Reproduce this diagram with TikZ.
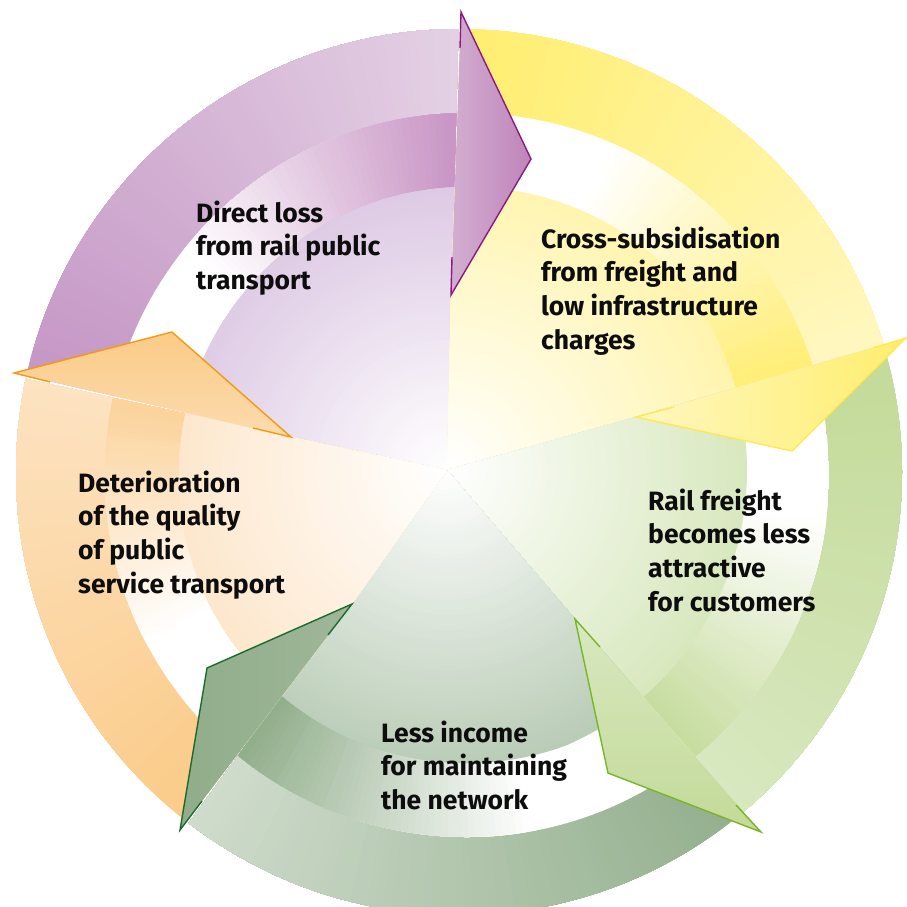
\documentclass[tikz,border=0pt]{standalone}
\usepackage{fontspec}
\setmainfont{Fira Sans}
\usetikzlibrary{calc}
% band start / band end / shaft / pie colours
\definecolor{purA}{HTML}{C596C5}\definecolor{purB}{HTML}{E4D1E4}\definecolor{purS}{HTML}{C894C4}\definecolor{purP}{HTML}{DBC6E2}
\definecolor{yelA}{HTML}{FFEE6E}\definecolor{yelB}{HTML}{FFF7C0}\definecolor{yelS}{HTML}{FFEE75}\definecolor{yelP}{HTML}{FFF4AE}
\definecolor{lgrA}{HTML}{C3DA98}\definecolor{lgrB}{HTML}{D8E8C0}\definecolor{lgrS}{HTML}{C6DC9D}\definecolor{lgrP}{HTML}{D8E8BE}
\definecolor{dgrA}{HTML}{93AF8D}\definecolor{dgrB}{HTML}{D0DCCD}\definecolor{dgrS}{HTML}{90AD8A}\definecolor{dgrP}{HTML}{B9CCB6}
\definecolor{orgA}{HTML}{FBCB88}\definecolor{orgB}{HTML}{FDE3C2}\definecolor{orgS}{HTML}{FBD299}\definecolor{orgP}{HTML}{FDE5C8}
% arrow-head fills and strokes
\definecolor{purH}{HTML}{D3AED1}\definecolor{purK}{HTML}{BF84B9}
\definecolor{purL}{HTML}{8A1A80}\definecolor{yelL}{HTML}{FFE950}\definecolor{lgrL}{HTML}{7AB527}
\definecolor{dgrL}{HTML}{1A6B2D}\definecolor{orgL}{HTML}{F39A10}
\definecolor{txt}{HTML}{0D0D0D}
% #1 start angle, #2 end angle, #3 start boundary name, #4 end boundary name,
% #5 band start colour, #6 band end colour, #7 shaft colour, #8 pie colour
\newcommand\drawsector[8]{%
 \begin{scope}
  \clip (A) -- (#3V2) -- ($(#3V2)!1.9!(#3V1)$) -- ($(#4V2)!1.9!(#4V1)$) -- (#4V2) -- cycle;
  \begin{scope}
   \clip (O) circle[radius=443];
   \foreach \i in {0,...,71}{%
     \pgfmathsetmacro\sa{#1+(#2-#1)*\i/72}%
     \pgfmathtruncatemacro\sp{100*(\i+0.5)/72}%
     \fill[#6!\sp!#5] (A) -- +(\sa:700) -- +(#2:700) -- cycle;
   }
  \end{scope}
  \begin{scope}
   \clip (I) circle[radius=362];
   \fill[white] (I) circle[radius=362];
   \foreach \i in {25,...,71}{%
     \pgfmathsetmacro\sa{#1+(#2-#1)*\i/72}%
     \pgfmathtruncatemacro\sp{100*(((\i+0.5)/72)-0.35)/0.65}%
     \fill[#7!\sp!white] (A) -- +(\sa:700) -- +(#2:700) -- cycle;
   }
  \end{scope}
  \begin{scope}
   \clip (I) circle[radius=288];
   \foreach \i in {0,...,59}{%
     \pgfmathsetmacro\sr{300-5*\i}%
     \pgfmathtruncatemacro\sp{(300-5*\i)/3}%
     \fill[#8!\sp!white] (A) circle[radius=\sr];
   }
  \end{scope}
 \end{scope}}
\tikzset{
  lbl/.style={anchor=base west, align=left, inner sep=0pt, text=txt,
    font=\fontsize{26.5}{33.7}\selectfont\bfseries},
  headline/.style={line width=1.4pt, line join=miter, line cap=butt}
}
\begin{document}
\begin{tikzpicture}[x=1pt,y=1pt]
\useasboundingbox (0,0) rectangle (907,-906);
\clip (0,0) rectangle (907,-906);
\coordinate (A) at (447,-470);
\coordinate (O) at (459,-472);
\coordinate (I) at (467,-475);
% arrow heads: V1 outer back corner, T tip, V2 inner back corner, B1/B2 barb ends
\coordinate (pV1) at (461,-12);  \coordinate (pT) at (531,-159); \coordinate (pV2) at (451,-295);
\coordinate (pB1) at (460,-48);  \coordinate (pB2) at (452,-257);
\coordinate (yV1) at (906,-338); \coordinate (yT) at (792,-451); \coordinate (yV2) at (636,-417);
\coordinate (yB1) at (873,-348); \coordinate (yB2) at (674,-407);
\coordinate (lV1) at (761,-832); \coordinate (lT) at (608,-773); \coordinate (lV2) at (575,-619);
\coordinate (lB1) at (736,-805); \coordinate (lB2) at (600,-647);
\coordinate (dV1) at (180,-830); \coordinate (dT) at (207,-668); \coordinate (dV2) at (352,-604);
\coordinate (dB1) at (202,-801); \coordinate (dB2) at (328,-635);
\coordinate (oV1) at (14,-373);  \coordinate (oT) at (172,-332); \coordinate (oV2) at (291,-437);
\coordinate (oB1) at (50,-382);  \coordinate (oB2) at (253,-428);
% sectors
\drawsector{167.8}{88.5}{o}{p}{purA}{purB}{purS}{purP}
\drawsector{88.5}{16}{p}{y}{yelA}{yelB}{yelS}{yelP}
\drawsector{16}{-49.2}{y}{l}{lgrA}{lgrB}{lgrS}{lgrP}
\drawsector{-49.2}{-126.2}{l}{d}{dgrA}{dgrB}{dgrS}{dgrP}
\drawsector{233.8}{167.8}{d}{o}{orgA}{orgB}{orgS}{orgP}
% heads
\shade[left color=purH, right color=purK] (pV1) -- (pT) -- (pV2) -- cycle;
\draw[headline, purL] (pB1) -- (pV1) -- (pT) -- (pV2) -- (pB2);
\shade[left color=yelB, right color=yelA] (yV1) -- (yT) -- (yV2) -- cycle;
\draw[headline, yelL] (yB1) -- (yV1) -- (yT) -- (yV2) -- (yB2);
\shade[top color=lgrB, bottom color=lgrA] (lV1) -- (lT) -- (lV2) -- cycle;
\draw[headline, lgrL] (lB1) -- (lV1) -- (lT) -- (lV2) -- (lB2);
\shade[left color=dgrS, right color=dgrA!90!white] (dV1) -- (dT) -- (dV2) -- cycle;
\draw[headline, dgrL] (dB1) -- (dV1) -- (dT) -- (dV2) -- (dB2);
\shade[top color=orgA, bottom color=orgS!80!white] (oV1) -- (oT) -- (oV2) -- cycle;
\draw[headline, orgL] (oB1) -- (oV1) -- (oT) -- (oV2) -- (oB2);
% labels (anchored at the baseline of their last line)
\node[lbl] (tP) at (196,-289.4) {Direct loss\\from rail public\\transport};
\node[lbl] (tY) at (541,-349.1) {Cross-subsidisation\\from freight and\\low infrastructure\\charges};
\node[lbl] (tL) at (648,-611.1) {Rail freight\\becomes less\\attractive\\for customers};
\node[lbl] (tD) at (381,-809.4) {Less income\\for maintaining\\the network};
\node[lbl] (tO) at (78,-593.1) {Deterioration\\of the quality\\of public\\service transport};
\end{tikzpicture}
\end{document}
